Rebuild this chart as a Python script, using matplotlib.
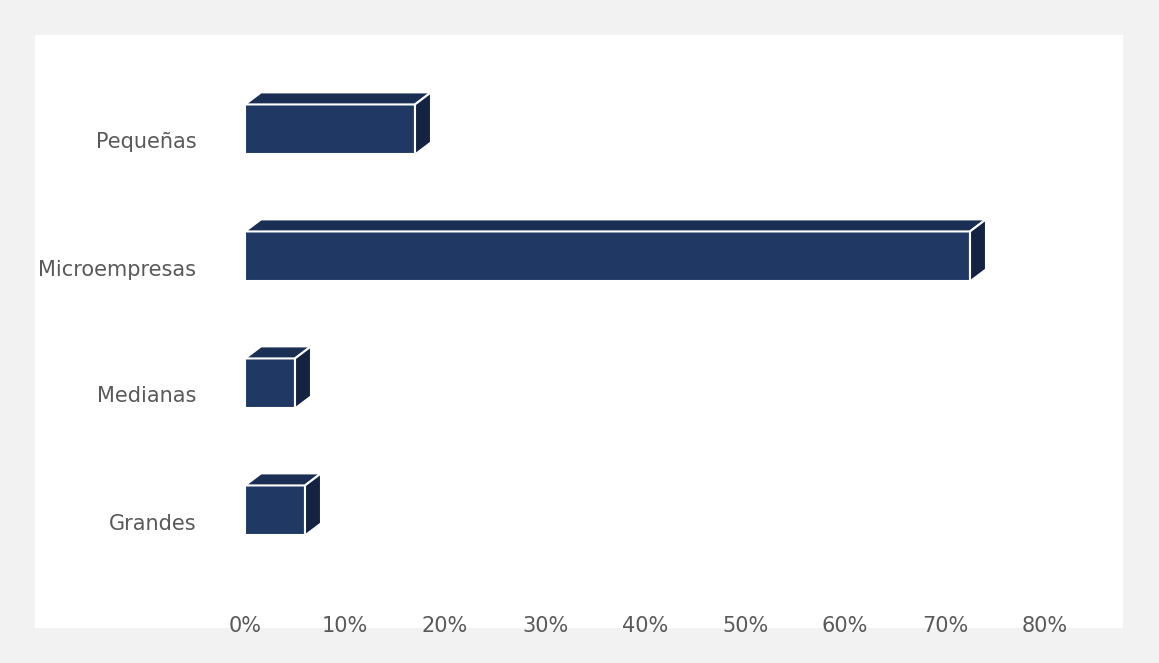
import matplotlib.pyplot as plt
from matplotlib.patches import Polygon, Rectangle

categories = ['Pequeñas', 'Microempresas', 'Medianas', 'Grandes']
values = [17, 72.5, 5, 6]
ticks = [0, 10, 20, 30, 40, 50, 60, 70, 80]

front_c = '#203864'
top_c = '#1b2f55'
side_c = '#142341'

fig = plt.figure(figsize=(11.59, 6.63), dpi=100)
fig.patch.set_facecolor('#f2f2f2')
fig.add_artist(Rectangle((35/1159, 35/663), 1088/1159, 593/663, transform=fig.transFigure,
                         facecolor='white', edgecolor='none', zorder=0))

ax = fig.add_axes([245/1159, 78/663, 800/1159, 508/663])
ax.set_facecolor('none')
ax.set_xlim(0, 80)
ax.set_ylim(3.5, -0.5)

dx, dy, off, h = 1.6, 0.095, 0.087, 0.197
for i, v in enumerate(values):
    yc = i - off
    y0, y1 = yc - h, yc + h  # y0 is top (inverted axis)
    ax.add_patch(Polygon([(0, y1), (v, y1), (v, y0), (0, y0)], closed=True,
                         facecolor=front_c, edgecolor='white', lw=1.5))
    ax.add_patch(Polygon([(0, y0), (dx, y0 - dy), (v + dx, y0 - dy), (v, y0)], closed=True,
                         facecolor=top_c, edgecolor='white', lw=1.5))
    ax.add_patch(Polygon([(v, y0), (v + dx, y0 - dy), (v + dx, y1 - dy), (v, y1)], closed=True,
                         facecolor=side_c, edgecolor='white', lw=1.5))

ax.set_yticks(range(len(categories)))
ax.set_yticklabels(categories, fontsize=15, color='#595959')
ax.set_xticks(ticks)
ax.set_xticklabels([f'{t}%' for t in ticks], fontsize=15, color='#595959')
ax.tick_params(axis='both', length=0)
ax.tick_params(axis='x', pad=22)
ax.tick_params(axis='y', pad=35)
for s in ax.spines.values():
    s.set_visible(False)

fig.savefig('out.png', dpi=100, facecolor=fig.get_facecolor())
